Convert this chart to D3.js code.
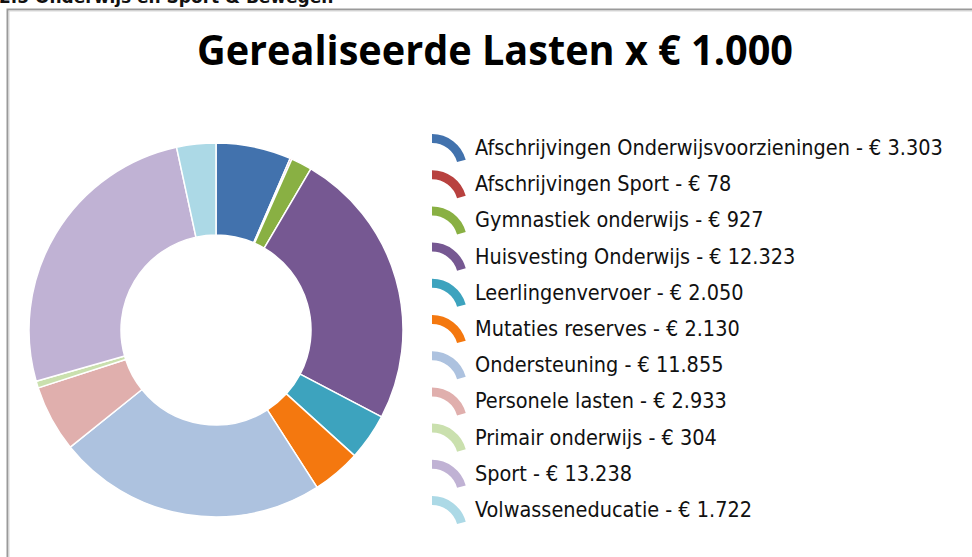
<!DOCTYPE html>
<html>
<head>
<meta charset="utf-8">
<script src="https://cdn.jsdelivr.net/npm/d3@7"></script>
<style>
  html, body { margin: 0; padding: 0; background: #fff; }
  svg { display: block; }
</style>
</head>
<body>
<svg id="chart" width="972" height="557"></svg>
<script>
// Gerealiseerde lasten per categorie (x € 1.000)
const categories = [
  "Afschrijvingen Onderwijsvoorzieningen",
  "Afschrijvingen Sport",
  "Gymnastiek onderwijs",
  "Huisvesting Onderwijs",
  "Leerlingenvervoer",
  "Mutaties reserves",
  "Ondersteuning",
  "Personele lasten",
  "Primair onderwijs",
  "Sport",
  "Volwasseneducatie"
];
const values = [3303, 78, 927, 12323, 2050, 2130, 11855, 2933, 304, 13238, 1722];
const valueLabels = ["3.303", "78", "927", "12.323", "2.050", "2.130", "11.855", "2.933", "304", "13.238", "1.722"];
const colors = ["#4272ad", "#b8413f", "#89b043", "#765892", "#3da3be", "#f4780f",
                "#adc2df", "#e0afad", "#cae0ae", "#c0b2d4", "#acd9e6"];
const sectionTitle = "2.5 Onderwijs en Sport & Bewegen";
const chartTitle = "Gerealiseerde Lasten x € 1.000";

const svg = d3.select("#chart");

// Section heading, largely scrolled out of view at the top
svg.append("text")
  .attr("x", -1).attr("y", 3)
  .attr("font-family", "DejaVu Sans, Verdana, sans-serif")
  .attr("font-weight", "bold")
  .attr("font-size", 17)
  .attr("fill", "#111")
  .text(sectionTitle);

// Chart frame
svg.append("rect")
  .attr("x", 7.5).attr("y", 9.5)
  .attr("width", 1000).attr("height", 600)
  .attr("fill", "#fff")
  .attr("stroke", "#9a9a9a").attr("stroke-width", 2);
svg.append("rect")
  .attr("x", 9).attr("y", 11)
  .attr("width", 1000).attr("height", 600)
  .attr("fill", "none")
  .attr("stroke", "#d8d8d8").attr("stroke-width", 1);

// Title
const title = svg.append("text")
  .attr("x", 197).attr("y", 65)
  .attr("font-family", "Open Sans, Lato, sans-serif")
  .attr("font-weight", "bold")
  .attr("font-size", 41)
  .attr("fill", "#000")
  .attr("textLength", 596)
  .attr("lengthAdjust", "spacingAndGlyphs")
  .text(chartTitle);

// Donut
const cx = 216, cy = 330, rOuter = 187, rInner = 95;
const pie = d3.pie().sort(null).value(d => d.value).startAngle(0).endAngle(2 * Math.PI);
const data = categories.map((c, i) => ({ name: c, value: values[i], color: colors[i], label: valueLabels[i] }));
const arc = d3.arc().innerRadius(rInner).outerRadius(rOuter);

const g = svg.append("g").attr("transform", `translate(${cx},${cy})`);
g.selectAll("path.slice")
  .data(pie(data))
  .join("path")
  .attr("class", "slice")
  .attr("d", arc)
  .attr("fill", d => d.data.color)
  .attr("stroke", "#fff")
  .attr("stroke-width", 1.5)
  .attr("stroke-linejoin", "round");

// Legend
const legendX = 432, legendY0 = 169, legendStep = 36.2;
const markerArc = d3.arc().innerRadius(26).outerRadius(35).startAngle(0).endAngle(1.3);
const legend = svg.append("g");
const items = legend.selectAll("g.item")
  .data(data)
  .join("g")
  .attr("class", "item")
  .attr("transform", (d, i) => `translate(${legendX},${legendY0 + i * legendStep})`);
items.append("path")
  .attr("d", markerArc())
  .attr("fill", d => d.color);
const texts = items.append("text")
  .attr("x", 43).attr("y", -14)
  .attr("font-family", "DejaVu Sans Condensed, DejaVu Sans, sans-serif")
  .attr("font-size", 17)
  .attr("fill", "#111")
  .text(d => `${d.name} - € ${d.label}`);

// Size legend font so the longest entry spans the available width
const longest = d3.max(texts.nodes(), n => n.getComputedTextLength());
const fs = 17 * 468 / longest;
texts.attr("font-size", fs.toFixed(2));
</script>
</body>
</html>
